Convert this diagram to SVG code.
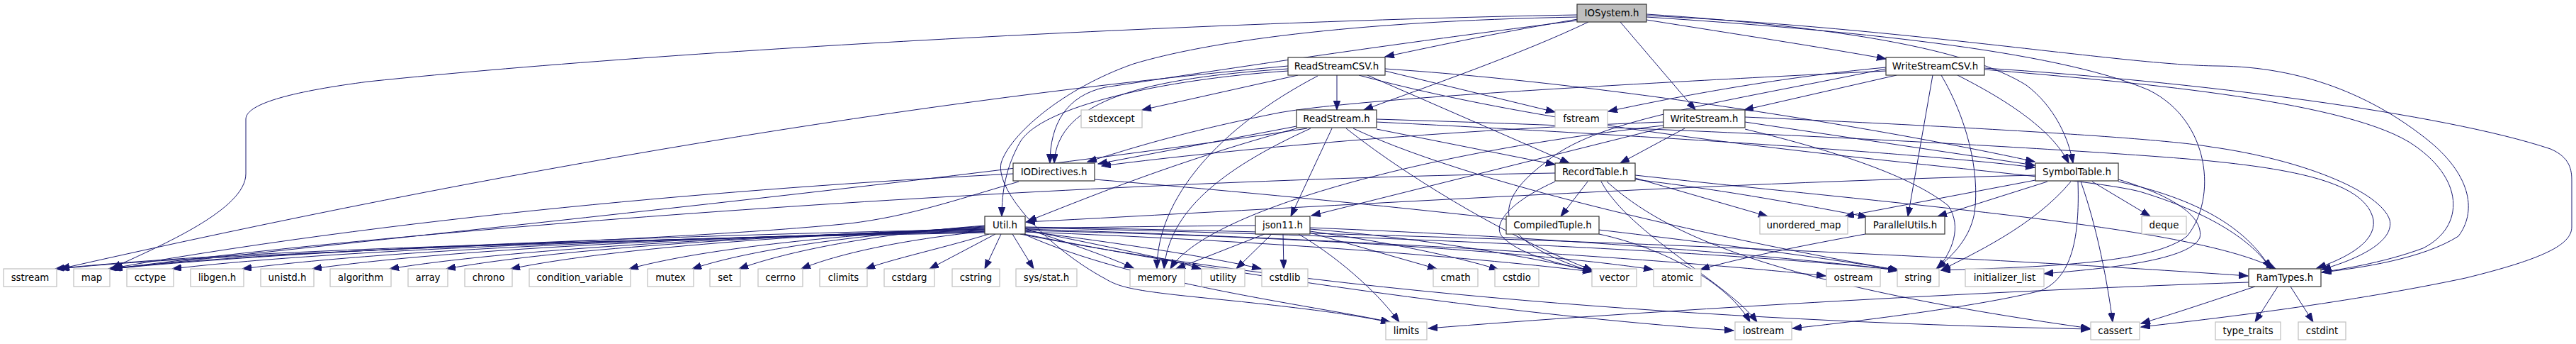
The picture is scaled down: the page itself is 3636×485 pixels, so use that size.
<svg xmlns="http://www.w3.org/2000/svg" width="3636" height="485" viewBox="0 0 3636 485">
<style>
.nd rect{fill:#fff;stroke:#333;stroke-width:1.2}
.lf rect{fill:#fff;stroke:#bfbfbf;stroke-width:1.2}
.rt rect{fill:#bfbfbf;stroke:#333;stroke-width:1.2}
text{font-family:"DejaVu Sans","Liberation Sans",sans-serif;font-size:13.33px;text-anchor:middle;fill:#000}
.e path{fill:none;stroke:#191970;stroke-width:1;marker-end:url(#a)}
</style>
<defs>
<marker id="a" markerWidth="14" markerHeight="10" refX="13" refY="4.7" orient="auto" markerUnits="userSpaceOnUse">
<path d="M0,0 L13,4.7 L0,9.4 z" fill="#191970" stroke="#191970" stroke-width="1"/>
</marker>
</defs>
<rect width="3636" height="485" fill="#fff"/>
<g id="edges" class="e">
<!-- IOSystem.h -->
<path d="M2226,21 C1800,28 1000,65 520,115 C420,128 347,145 347,168 L347,245 C347,295 230,345 158,378"/>
<path d="M2227,27 C2120,45 2040,62 1955,80"/>
<path d="M2242,31 C2150,75 2020,120 1925,155"/>
<path d="M2226,29 C1900,70 1650,110 1560,123 C1505,135 1482,175 1482,230"/>
<path d="M2226,24 C1900,30 1700,60 1600,90 C1500,125 1425,190 1413,230 C1405,270 1480,350 1560,393 C1580,405 1600,410 1700,420 C1850,435 1920,445 1963,455"/>
<path d="M2287,31 L2393,155"/>
<path d="M2324,28 C2450,48 2580,68 2662,83"/>
<path d="M2324,20 C2600,38 2780,70 2860,120 C2900,150 2920,195 2926,230"/>
<path d="M2324,22 C2700,40 3000,92 3130,93 C3250,94 3350,135 3430,200 C3490,250 3495,300 3470,333 C3420,365 3330,378 3278,384"/>
<path d="M2324,24 C2600,42 2900,70 3033,127 C3120,170 3130,280 3087,333 C3040,370 2900,376 2740,381"/>
<!-- ReadStreamCSV.h -->
<path d="M1887,106 L1887,155"/>
<path d="M1832,106 L1612,155"/>
<path d="M1860,107 C1720,180 1633,280 1633,379"/>
<path d="M1818,97 C1620,110 1492,140 1488,230"/>
<path d="M1818,100 C1640,112 1470,150 1440,200 C1420,235 1414,270 1414,305"/>
<path d="M1818,93 C1300,140 700,240 85,379"/>
<path d="M1955,100 L2195,158"/>
<path d="M1930,106 L2215,230"/>
<path d="M1955,97 C2300,120 2700,190 2872,228"/>
<path d="M1918,106 C2300,210 2900,240 3020,270 C3120,300 3180,340 3205,379"/>
<!-- ReadStream.h -->
<path d="M1880,181 L1822,305"/>
<path d="M1850,181 C1720,240 1650,300 1643,379"/>
<path d="M1830,178 L1550,231"/>
<path d="M1830,181 C1650,230 1520,285 1450,312"/>
<path d="M1845,181 C1400,250 600,330 160,379"/>
<path d="M1943,182 L2195,232"/>
<path d="M1943,172 C2300,190 2700,215 2872,236"/>
<path d="M1943,168 C2500,185 3000,215 3120,227 C3250,240 3340,260 3350,310 C3355,345 3300,368 3270,378"/>
<path d="M1900,181 C2000,260 2150,345 2248,381"/>
<path d="M1910,181 C2100,270 2500,350 2680,381"/>
<!-- WriteStream.h -->
<path d="M2378,181 L2287,230"/>
<path d="M2348,172 C2000,185 1700,215 1555,234"/>
<path d="M2348,180 L1851,304"/>
<path d="M2348,177 C2000,215 1700,300 1652,379"/>
<path d="M2463,172 L2872,233"/>
<path d="M2463,165 C2800,180 3050,195 3120,207 C3250,225 3360,270 3373,310 C3380,340 3330,365 3277,380"/>
<path d="M2463,182 C2600,215 2700,250 2750,290 C2770,320 2755,355 2735,379"/>
<!-- WriteStreamCSV.h -->
<path d="M2677,106 L2462,155"/>
<path d="M2662,95 C2500,110 2350,140 2270,157"/>
<path d="M2662,100 C2300,118 1900,140 1800,160 C1650,190 1580,215 1535,228"/>
<path d="M2728,106 L2693,305"/>
<path d="M2740,106 C2775,165 2795,240 2787,300 C2780,340 2750,365 2733,379"/>
<path d="M2763,106 C2850,150 2900,190 2920,230"/>
<path d="M2801,98 C3000,115 3300,140 3400,200 C3480,250 3480,320 3420,350 C3360,372 3300,380 3277,384"/>
<path d="M2801,96 C3100,115 3450,160 3600,210 C3628,222 3630,240 3630,255 L3630,320 C3630,345 3590,365 3480,392 C3300,430 3100,452 3022,461"/>
<path d="M2662,97 C2400,150 2250,170 2180,230 C2100,290 2110,340 2247,383"/>
<!-- IODirectives.h -->
<path d="M1430,245 C1100,262 600,300 160,378"/>
<path d="M1438,256 C1340,285 1280,305 1200,315 C900,345 300,355 85,379"/>
<path d="M1545,253 C2000,290 2500,350 2680,381"/>
<!-- Util.h -->
<path d="M1390,328 C799,340 340,352 78,379"/>
<path d="M1390,327 C833,339 400,352 153,379"/>
<path d="M1390,326 C873,338 472,352 243,379"/>
<path d="M1390,325 C918,337 551,352 342,379"/>
<path d="M1390,324 C962,336 630,352 441,379"/>
<path d="M1390,323 C1012,335 717,352 550,379"/>
<path d="M1390,322 C1048,334 781,352 630,379"/>
<path d="M1390,321 C1089,333 854,352 721,379"/>
<path d="M1390,320 C1164,332 988,352 888,379"/>
<path d="M1390,319 C1204,331 1059,352 977,379"/>
<path d="M1390,318 C1233,330 1112,354 1043,379"/>
<path d="M1390,326 C1273,338 1182,358 1131,379"/>
<path d="M1396,330 C1330,350 1260,365 1222,379"/>
<path d="M1405,330 L1312,379"/>
<path d="M1413,330 L1390,379"/>
<path d="M1429,330 L1459,379"/>
<path d="M1447,322 C1500,340 1560,360 1600,378"/>
<path d="M1447,324 C1550,345 1650,365 1695,379"/>
<path d="M1447,326 C1600,345 1720,365 1780,379"/>
<path d="M1445,330 C1600,400 1850,430 1962,454"/>
<path d="M1447,327 C1800,340 2100,365 2247,383"/>
<path d="M1447,325 C1900,335 2200,360 2333,380"/>
<path d="M1447,323 C2000,340 2400,370 2577,389"/>
<path d="M1447,321 C2100,335 2550,365 2678,381"/>
<path d="M1447,320 C2300,335 2900,370 3173,389"/>
<path d="M1445,330 C1800,400 2200,450 2447,466"/>
<path d="M1440,330 C1900,420 2500,455 2950,464"/>
<!-- json11.h -->
<path d="M1785,330 L1660,379"/>
<path d="M1795,330 L1745,379"/>
<path d="M1811,330 L1812,379"/>
<path d="M1833,330 C1900,370 1950,420 1975,454"/>
<path d="M1849,328 L2028,379"/>
<path d="M1849,326 C1950,340 2050,360 2115,380"/>
<path d="M1849,323 C2000,335 2150,360 2250,383"/>
<path d="M1849,321 C2200,335 2500,360 2680,381"/>
<path d="M1772,318 C1200,322 500,345 158,379"/>
<!-- RecordTable.h -->
<path d="M2241,256 L2203,305"/>
<path d="M2195,244 C1500,255 600,320 160,379"/>
<path d="M2195,256 C2130,285 2100,320 2125,338 C2150,360 2200,372 2247,382"/>
<path d="M2260,256 C2300,330 2440,400 2480,454"/>
<path d="M2268,256 C2350,330 2500,400 2950,463"/>
<path d="M2308,251 L2495,305"/>
<path d="M2308,253 C2450,270 2550,290 2636,306"/>
<path d="M2308,247 C2700,290 3100,320 3212,379"/>
<!-- CompiledTuple.h -->
<path d="M2257,330 C2350,350 2440,400 2470,454"/>
<!-- SymbolTable.h -->
<path d="M2873,247 C2400,258 1800,295 1448,313"/>
<path d="M2873,254 L2604,305"/>
<path d="M2890,256 L2735,305"/>
<path d="M2923,256 C2870,320 2780,360 2740,381"/>
<path d="M2933,256 C2935,320 2930,390 2880,410 C2800,430 2650,450 2530,463"/>
<path d="M2937,256 C2960,320 2975,400 2982,454"/>
<path d="M2953,256 L3035,305"/>
<path d="M2990,253 C3080,280 3110,310 3105,335 C3090,370 2950,380 2885,386"/>
<path d="M2990,256 C3100,280 3170,320 3205,379"/>
<!-- ParallelUtils.h -->
<path d="M2633,330 C2550,345 2450,365 2400,380"/>
<!-- RamTypes.h -->
<path d="M3215,404 L3183,454"/>
<path d="M3233,404 L3265,454"/>
<path d="M3183,404 C3120,425 3060,445 3022,456"/>
<path d="M3174,398 C2800,410 2300,440 2016,463"/>
</g>
<g id="n-IOSystem" class="rt"><rect x="2226" y="6" width="98" height="25"/><text x="2275" y="23">IOSystem.h</text></g>
<g id="n-ReadStreamCSV" class="nd"><rect x="1818" y="81" width="137" height="25"/><text x="1886.5" y="98">ReadStreamCSV.h</text></g>
<g id="n-WriteStreamCSV" class="nd"><rect x="2662" y="81" width="139" height="25"/><text x="2731.5" y="98">WriteStreamCSV.h</text></g>
<g id="n-stdexcept" class="lf"><rect x="1526" y="155" width="86" height="25"/><text x="1569" y="172">stdexcept</text></g>
<g id="n-ReadStream" class="nd"><rect x="1830" y="155" width="113" height="25"/><text x="1886.5" y="172">ReadStream.h</text></g>
<g id="n-fstream" class="lf"><rect x="2195" y="155" width="74" height="25"/><text x="2232" y="172">fstream</text></g>
<g id="n-WriteStream" class="nd"><rect x="2348" y="155" width="115" height="25"/><text x="2405.5" y="172">WriteStream.h</text></g>
<g id="n-IODirectives" class="nd"><rect x="1430" y="230" width="115" height="25"/><text x="1487.5" y="247">IODirectives.h</text></g>
<g id="n-RecordTable" class="nd"><rect x="2195" y="230" width="113" height="25"/><text x="2251.5" y="247">RecordTable.h</text></g>
<g id="n-SymbolTable" class="nd"><rect x="2873" y="230" width="117" height="25"/><text x="2931.5" y="247">SymbolTable.h</text></g>
<g id="n-Util" class="nd"><rect x="1390" y="305" width="57" height="25"/><text x="1418.5" y="322">Util.h</text></g>
<g id="n-json11" class="nd"><rect x="1772" y="305" width="77" height="25"/><text x="1810.5" y="322">json11.h</text></g>
<g id="n-CompiledTuple" class="nd"><rect x="2126" y="305" width="131" height="25"/><text x="2191.5" y="322">CompiledTuple.h</text></g>
<g id="n-unordered_map" class="lf"><rect x="2484" y="305" width="124" height="25"/><text x="2546" y="322">unordered_map</text></g>
<g id="n-ParallelUtils" class="nd"><rect x="2633" y="305" width="112" height="25"/><text x="2689" y="322">ParallelUtils.h</text></g>
<g id="n-deque" class="lf"><rect x="3023" y="305" width="63" height="25"/><text x="3054.5" y="322">deque</text></g>
<g id="n-sstream" class="lf"><rect x="5" y="379" width="75" height="25"/><text x="42.5" y="396">sstream</text></g>
<g id="n-map" class="lf"><rect x="104" y="379" width="51" height="25"/><text x="129.5" y="396">map</text></g>
<g id="n-cctype" class="lf"><rect x="179" y="379" width="66" height="25"/><text x="212" y="396">cctype</text></g>
<g id="n-libgen" class="lf"><rect x="269" y="379" width="75" height="25"/><text x="306.5" y="396">libgen.h</text></g>
<g id="n-unistd" class="lf"><rect x="368" y="379" width="75" height="25"/><text x="405.5" y="396">unistd.h</text></g>
<g id="n-algorithm" class="lf"><rect x="466" y="379" width="86" height="25"/><text x="509" y="396">algorithm</text></g>
<g id="n-array" class="lf"><rect x="576" y="379" width="56" height="25"/><text x="604" y="396">array</text></g>
<g id="n-chrono" class="lf"><rect x="656" y="379" width="67" height="25"/><text x="689.5" y="396">chrono</text></g>
<g id="n-condition_variable" class="lf"><rect x="747" y="379" width="143" height="25"/><text x="818.5" y="396">condition_variable</text></g>
<g id="n-mutex" class="lf"><rect x="914" y="379" width="65" height="25"/><text x="946.5" y="396">mutex</text></g>
<g id="n-set" class="lf"><rect x="1002" y="379" width="43" height="25"/><text x="1023.5" y="396">set</text></g>
<g id="n-cerrno" class="lf"><rect x="1070" y="379" width="63" height="25"/><text x="1101.5" y="396">cerrno</text></g>
<g id="n-climits" class="lf"><rect x="1157" y="379" width="67" height="25"/><text x="1190.5" y="396">climits</text></g>
<g id="n-cstdarg" class="lf"><rect x="1248" y="379" width="71" height="25"/><text x="1283.5" y="396">cstdarg</text></g>
<g id="n-cstring" class="lf"><rect x="1344" y="379" width="67" height="25"/><text x="1377.5" y="396">cstring</text></g>
<g id="n-sysstat" class="lf"><rect x="1434" y="379" width="86" height="25"/><text x="1477" y="396">sys/stat.h</text></g>
<g id="n-memory" class="lf"><rect x="1595" y="379" width="77" height="25"/><text x="1633.5" y="396">memory</text></g>
<g id="n-utility" class="lf"><rect x="1696" y="379" width="61" height="25"/><text x="1726.5" y="396">utility</text></g>
<g id="n-cstdlib" class="lf"><rect x="1781" y="379" width="65" height="25"/><text x="1813.5" y="396">cstdlib</text></g>
<g id="n-cmath" class="lf"><rect x="2023" y="379" width="63" height="25"/><text x="2054.5" y="396">cmath</text></g>
<g id="n-cstdio" class="lf"><rect x="2110" y="379" width="62" height="25"/><text x="2141" y="396">cstdio</text></g>
<g id="n-vector" class="lf"><rect x="2247" y="379" width="63" height="25"/><text x="2278.5" y="396">vector</text></g>
<g id="n-atomic" class="lf"><rect x="2334" y="379" width="67" height="25"/><text x="2367.5" y="396">atomic</text></g>
<g id="n-ostream" class="lf"><rect x="2578" y="379" width="76" height="25"/><text x="2616" y="396">ostream</text></g>
<g id="n-string" class="lf"><rect x="2678" y="379" width="59" height="25"/><text x="2707.5" y="396">string</text></g>
<g id="n-initializer_list" class="lf"><rect x="2774" y="379" width="111" height="25"/><text x="2829.5" y="396">initializer_list</text></g>
<g id="n-RamTypes" class="nd"><rect x="3174" y="379" width="102" height="25"/><text x="3225" y="396">RamTypes.h</text></g>
<g id="n-limits" class="lf"><rect x="1956" y="454" width="58" height="25"/><text x="1985" y="471">limits</text></g>
<g id="n-iostream" class="lf"><rect x="2449" y="454" width="80" height="25"/><text x="2489" y="471">iostream</text></g>
<g id="n-cassert" class="lf"><rect x="2951" y="454" width="69" height="25"/><text x="2985.5" y="471">cassert</text></g>
<g id="n-type_traits" class="lf"><rect x="3127" y="454" width="92" height="25"/><text x="3173" y="471">type_traits</text></g>
<g id="n-cstdint" class="lf"><rect x="3244" y="454" width="67" height="25"/><text x="3277.5" y="471">cstdint</text></g>
</svg>
